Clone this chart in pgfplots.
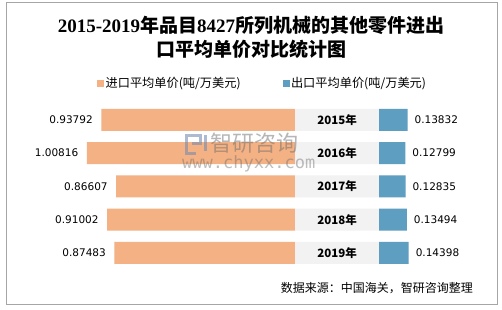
\documentclass[border=0pt]{standalone}
\usepackage{fontspec}
\setmainfont{DejaVu Sans}
\newfontfamily\cjk{Noto Sans CJK SC}
\newfontfamily\serifb{Liberation Serif}
\newfontfamily\monof{DejaVu Sans Mono}
\usepackage{pgfplots}
\pgfplotsset{compat=1.18}
\definecolor{orangeC}{RGB}{244,177,131}
\definecolor{blueC}{RGB}{94,158,192}
\definecolor{grayC}{RGB}{242,242,242}
\definecolor{frameC}{RGB}{166,166,166}
\definecolor{wmC}{RGB}{110,110,110}
\definecolor{logoC}{RGB}{120,140,175}
\begin{document}
\begin{tikzpicture}
\fill[white] (0pt,0pt) rectangle (502pt,309pt);
\path[use as bounding box] (0pt,0pt) rectangle (502pt,309pt);
\draw[frameC, line width=0.9pt] (6pt,5pt) rectangle (497pt,307pt);
\node[align=center, font=\bfseries\fontsize{19}{24}\selectfont, inner sep=0pt] at (251pt,272pt)
  {{\serifb 2015-2019}{\cjk 年品目}{\serifb 8427}{\cjk 所列机械的其他零件进出}\\{\cjk 口平均单价对比统计图}};
\begin{axis}[
  scale only axis, x=206.5pt, y=33.25pt,
  xmin=-1.2, xmax=0.6, ymin=-0.5, ymax=4.5, y dir=reverse,
  anchor=south west, at={(47.2pt,39.5pt)},
  hide axis, xbar, bar width=22pt,
  point meta=explicit symbolic, clip=false,
  legend columns=2,
  legend style={at={(0.134,1.122)}, anchor=west, draw=none, fill=none, inner sep=0pt,
    font=\cjk\fontsize{12.2}{13}\selectfont,
    /tikz/every even column/.append style={column sep=40pt}},
]
\addlegendimage{legend image code/.code={\fill[orangeC] (0pt,-3pt) rectangle (6pt,3pt);}}
\addlegendentry{进口平均单价(吨/万美元)}
\addlegendimage{legend image code/.code={\fill[blueC] (0pt,-3pt) rectangle (6pt,3pt);}}
\addlegendentry{出口平均单价(吨/万美元)}
\addplot[forget plot, fill=orangeC, draw=none, bar shift=0pt, nodes near coords,
  nodes near coords align={left},
  every node near coord/.append style={font=\fontsize{10.5}{12}\selectfont, text=black, xshift=-5pt}]
  coordinates {(-0.93792,0)[0.93792] (-1.00816,1)[1.00816] (-0.86607,2)[0.86607] (-0.91002,3)[0.91002] (-0.87483,4)[0.87483]};
\addplot[forget plot, fill=grayC, draw=none, bar shift=0pt, nodes near coords,
  nodes near coords align={anchor=center},
  every node near coord/.append style={font=\cjk\bfseries\fontsize{11.5}{12}\selectfont, text=black, anchor=center, xshift=-42pt}]
  coordinates {(0.4068,0)[2015年] (0.4068,1)[2016年] (0.4068,2)[2017年] (0.4068,3)[2018年] (0.4068,4)[2019年]};
\end{axis}
\begin{axis}[
  scale only axis, x=206.5pt, y=33.25pt,
  xmin=-1.6068, xmax=0.1932, ymin=-0.5, ymax=4.5, y dir=reverse,
  anchor=south west, at={(47.2pt,39.5pt)},
  hide axis, xbar, bar width=22pt,
  point meta=explicit symbolic, clip=false,
]
\addplot[fill=blueC, draw=none, bar shift=0pt, nodes near coords,
  nodes near coords align={right},
  every node near coord/.append style={font=\fontsize{10.5}{12}\selectfont, text=black, xshift=3.5pt}]
  coordinates {(0.13832,0)[0.13832] (0.12799,1)[0.12799] (0.12835,2)[0.12835] (0.13494,3)[0.13494] (0.14398,4)[0.14398]};
\end{axis}
% watermark
\node[text=wmC, opacity=0.5, font=\cjk\fontsize{22}{22}\selectfont, anchor=west, inner sep=0pt] at (210pt,166pt) {智研咨询};
\node[text=wmC, opacity=0.45, font=\monof\fontsize{17}{17}\selectfont, anchor=west, inner sep=0pt] at (182pt,145pt) {www.chyxx.com};
\draw[logoC, opacity=0.6, line width=3pt] (196pt,156pt) -- (186pt,156pt) -- (186pt,174pt) -- (200pt,174pt) -- (200pt,166pt) -- (192pt,166pt);
\draw[logoC, opacity=0.6, line width=3pt] (205pt,174pt) -- (205pt,158pt);
% source
\node[font=\cjk\fontsize{12}{14}\selectfont, anchor=east, inner sep=0pt] at (473pt,21pt) {数据来源：中国海关，智研咨询整理};
\end{tikzpicture}
\end{document}
